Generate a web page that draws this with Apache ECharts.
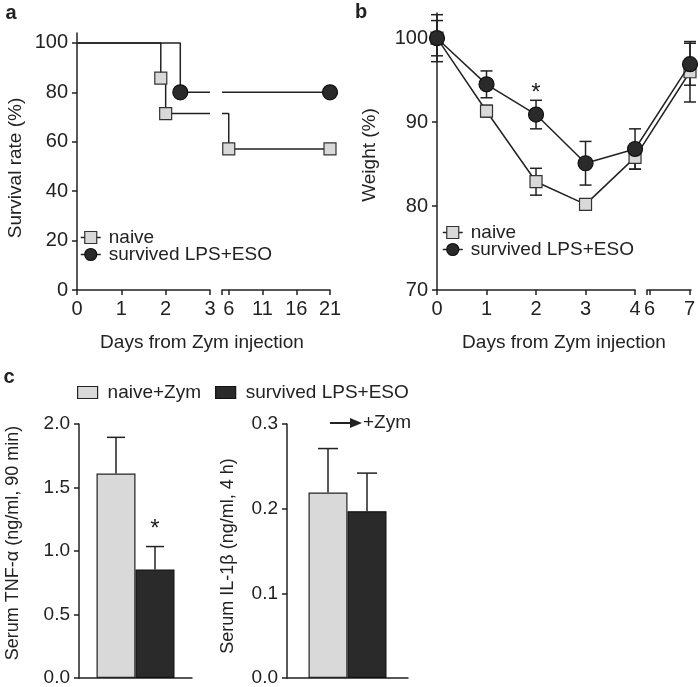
<!DOCTYPE html>
<html>
<head>
<meta charset="utf-8">
<script src="https://cdn.jsdelivr.net/npm/echarts@6/dist/echarts.min.js"></script>
<style>
  html, body { margin: 0; padding: 0; background: #fff; }
  #chart { width: 700px; height: 687px; }
</style>
</head>
<body>
<div id="chart"></div>
<script>
// a: survival after Zym (Kaplan-Meier steps)
var survTimeNaive = [0, 1.89, 2, 6, 21];
var survNaive = [100, 85.7, 71.4, 57.1, 57.1];
var survTimeEso = [0, 2.33, 21];
var survEso = [100, 80, 80];
var survYTicks = [0, 20, 40, 60, 80, 100];
var survDaysRight = [6, 11, 16, 21];

// b: body weight
var weightDays = [0, 1, 2, 3, 4, 7];
var weightNaive = [100, 91.3, 82.9, 80.2, 85.8, 96.0];
var weightNaiveErr = [2.8, 0.7, 1.6, 0.4, 1.4, 3.6];
var weightEso = [100, 94.5, 90.9, 85.1, 86.8, 96.9];
var weightEsoErr = [2.1, 1.6, 1.7, 2.6, 2.4, 2.5];
var weightYTicks = [70, 80, 90, 100];
var weightDaysRight = [6, 7];
var weightSigDay = 2;

// c: serum cytokines
var groupsC = ['naive+Zym', 'survived LPS+ESO'];
var tnfMean = [1.61, 0.855];
var tnfErr = [0.285, 0.18];
var il1Mean = [0.219, 0.197];
var il1Err = [0.052, 0.045];

var FONT = "'Liberation Sans', Arial, sans-serif";
var INK = '#222';
var LIGHT = '#d9d9d9';
var DARK = '#2a2a2a';
var BAR_W = 39;

// b has a broken day axis: 0-4 at full scale, 6-7 squeezed in after the break
function bPos(d) { return d <= 4 ? d : 4.3 + (d - 6) * 0.81; }
function bDay(p) { return Math.round((p - 4.3) / 0.81 + 6); }

var chart = echarts.init(document.getElementById('chart'), null, { renderer: 'canvas', width: 700, height: 687 });

function shownAxis(grid, min, max, extra) {
  extra = extra || {};
  var ax = {
    type: 'value', gridIndex: grid, min: min, max: max,
    splitLine: { show: false },
    axisLine: { show: true, onZero: false, lineStyle: { color: INK, width: 1.5 } },
    axisTick: { show: true, length: 5, lineStyle: { color: INK, width: 1.5 } },
    axisLabel: { color: INK, fontSize: extra.size || 20, fontFamily: FONT, margin: 9 }
  };
  if (extra.ticks) ax.axisTick.customValues = extra.ticks;
  if (extra.labels) ax.axisLabel.customValues = extra.labels;
  if (extra.interval) ax.interval = extra.interval;
  if (extra.fmt) ax.axisLabel.formatter = extra.fmt;
  return ax;
}
function hiddenAxis(grid, min, max) {
  return { type: 'value', gridIndex: grid, min: min, max: max, show: false, splitLine: { show: false } };
}
function catAxis(grid) {
  return {
    type: 'category', gridIndex: grid, data: [''],
    axisLine: { lineStyle: { color: INK, width: 1.5 } },
    axisTick: { show: false }, axisLabel: { show: false }
  };
}

// survival curve split around the axis break
function stepPieces(times, vals, breakAt, resumeAt) {
  var left = [], right = [], held = vals[0];
  for (var i = 0; i < times.length; i++) {
    var p = i === 0 ? { value: [times[i], vals[i]], symbol: 'none' } : [times[i], vals[i]];
    if (times[i] <= breakAt) { left.push(p); held = vals[i]; }
    else right.push(p);
  }
  left.push({ value: [breakAt, held], symbol: 'none' });
  right.unshift({ value: [resumeAt, held], symbol: 'none' });
  return [left, right];
}

var styleNaive = { symbol: 'rect', symbolSize: 12, itemStyle: { color: LIGHT, borderColor: '#333', borderWidth: 1.2 } };
var styleEso = { symbol: 'circle', symbolSize: 15, itemStyle: { color: DARK, borderColor: '#111', borderWidth: 1.2 } };

function lineSeries(name, grid, data, look, extra) {
  return Object.assign({
    type: 'line', name: name, xAxisIndex: grid, yAxisIndex: grid, data: data,
    symbol: look.symbol, symbolSize: look.symbolSize, itemStyle: look.itemStyle,
    lineStyle: { color: INK, width: 1.5 }, showAllSymbol: true, silent: true,
    z: name === 'naive' ? 3 : 4
  }, extra || {});
}

function errorBars(grid, data, dx, cap, twoSided) {
  return {
    type: 'custom', xAxisIndex: grid, yAxisIndex: grid, data: data, z: 2, silent: true,
    renderItem: function (params, api) {
      var lo = api.coord([api.value(0), api.value(1)]);
      var hi = api.coord([api.value(0), api.value(2)]);
      var x = lo[0] + dx;
      var st = { stroke: INK, lineWidth: 1.5 };
      var kids = [
        { type: 'line', shape: { x1: x, y1: lo[1], x2: x, y2: hi[1] }, style: st },
        { type: 'line', shape: { x1: x - cap, y1: hi[1], x2: x + cap, y2: hi[1] }, style: st }
      ];
      if (twoSided) kids.push({ type: 'line', shape: { x1: x - cap, y1: lo[1], x2: x + cap, y2: lo[1] }, style: st });
      return { type: 'group', children: kids };
    }
  };
}

function star(grid, data, dx, lift) {
  return {
    type: 'custom', xAxisIndex: grid, yAxisIndex: grid, data: data, z: 5, silent: true,
    renderItem: function (params, api) {
      var p = api.coord([api.value(0), api.value(1)]);
      return {
        type: 'text', x: p[0] + dx, y: p[1] - lift,
        style: { text: '*', fill: INK, font: '24px ' + FONT, textAlign: 'center', textVerticalAlign: 'middle', verticalAlign: 'middle' }
      };
    }
  };
}

function txt(text, x, y, o) {
  o = o || {};
  return {
    type: 'text', x: x, y: y, rotation: o.rot || 0, silent: true,
    style: {
      text: text, fill: INK, font: (o.bold ? 'bold ' : '') + (o.size || 19) + 'px ' + FONT,
      textAlign: o.align || 'center', textVerticalAlign: 'middle', verticalAlign: 'middle'
    }
  };
}

var naivePieces = stepPieces(survTimeNaive, survNaive, 3, 5);
var esoPieces = stepPieces(survTimeEso, survEso, 3, 5);

var weightNaiveData = weightDays.map(function (d, i) { return [bPos(d), weightNaive[i]]; });
var weightEsoData = weightDays.map(function (d, i) { return [bPos(d), weightEso[i]]; });
var weightNaiveErrData = weightDays.map(function (d, i) { return [bPos(d), weightNaive[i] - weightNaiveErr[i], weightNaive[i] + weightNaiveErr[i]]; });
var weightEsoErrData = weightDays.map(function (d, i) { return [bPos(d), weightEso[i] - weightEsoErr[i], weightEso[i] + weightEsoErr[i]]; });
var sigIdx = weightDays.indexOf(weightSigDay);

var legendLine = {
  naive: { name: 'naive', itemStyle: { color: LIGHT, borderColor: '#333', borderWidth: 1.2 }, lineStyle: { color: INK, width: 1.5 } },
  eso: { name: 'survived LPS+ESO', itemStyle: { color: DARK, borderColor: '#111', borderWidth: 1.2 }, lineStyle: { color: INK, width: 1.5 } }
};
function lineLegend(left, top) {
  return {
    orient: 'vertical', left: left, top: top, itemWidth: 20, itemHeight: 15, itemGap: -2,
    selectedMode: false, padding: 0,
    data: [legendLine.naive, legendLine.eso],
    textStyle: { color: INK, fontSize: 19, fontFamily: FONT, lineHeight: 17, padding: [0, 0, 0, 3] }
  };
}

var grids = [
  { left: 77, top: 33, width: 133, height: 257 },   // a, days 0-3
  { left: 222, top: 33, width: 108, height: 257 },  // a, days 6-21
  { left: 437, top: 13, width: 253, height: 277 },  // b, data
  { left: 437, top: 13, width: 198, height: 277 },  // b, axis days 0-4
  { left: 647, top: 13, width: 44, height: 277 },   // b, axis days 6-7
  { left: 79, top: 424, width: 113, height: 254 },  // c, TNF
  { left: 287, top: 424, width: 121, height: 254 }  // c, IL-1b
].map(function (g) { return Object.assign(g, { containLabel: false, outerBoundsMode: 'none' }); });

var fmt1 = function (v) { return v.toFixed(1); };

var option = {
  animation: false,
  textStyle: { fontFamily: FONT },
  grid: grids,
  xAxis: [
    shownAxis(0, 0, 3, { interval: 1 }),
    shownAxis(1, 5, 21, { ticks: [5].concat(survDaysRight), labels: survDaysRight }),
    hiddenAxis(2, 0, bPos(7)),
    shownAxis(3, 0, 4, { interval: 1 }),
    shownAxis(4, 4.25, 5.14, {
      ticks: [4.25].concat(weightDaysRight.map(bPos)),
      labels: weightDaysRight.map(bPos),
      fmt: function (v) { return String(bDay(v)); }
    }),
    catAxis(5),
    catAxis(6)
  ],
  yAxis: [
    shownAxis(0, 0, 104, { ticks: survYTicks, labels: survYTicks }),
    hiddenAxis(1, 0, 104),
    shownAxis(2, 70, 103, { ticks: weightYTicks, labels: weightYTicks }),
    hiddenAxis(3, 70, 103),
    hiddenAxis(4, 70, 103),
    shownAxis(5, 0, 2, { interval: 0.5, fmt: fmt1, size: 19 }),
    shownAxis(6, 0, 0.3, { interval: 0.1, fmt: fmt1, size: 19 })
  ],
  legend: [
    lineLegend(80, 228),
    lineLegend(442, 223),
    {
      orient: 'horizontal', left: 77, top: 383, itemWidth: 20, itemHeight: 12, itemGap: 14,
      selectedMode: false, padding: 0,
      data: [
        { name: groupsC[0], icon: 'rect', itemStyle: { color: LIGHT, borderColor: '#222', borderWidth: 1.2 } },
        { name: groupsC[1], icon: 'rect', itemStyle: { color: DARK, borderColor: '#111', borderWidth: 1.2 } }
      ],
      textStyle: { color: INK, fontSize: 19, fontFamily: FONT, padding: [0, 0, 0, 5] }
    }
  ],
  series: [
    // a
    lineSeries('naive', 0, naivePieces[0], styleNaive, { step: 'end' }),
    lineSeries('naive', 1, naivePieces[1], styleNaive, { step: 'end' }),
    lineSeries('survived LPS+ESO', 0, esoPieces[0], styleEso, { step: 'end' }),
    lineSeries('survived LPS+ESO', 1, esoPieces[1], styleEso, { step: 'end' }),
    // b
    errorBars(2, weightNaiveErrData, 0, 6, true),
    errorBars(2, weightEsoErrData, 0, 6, true),
    lineSeries('naive', 2, weightNaiveData, styleNaive),
    lineSeries('survived LPS+ESO', 2, weightEsoData, styleEso),
    star(2, [[bPos(weightSigDay), weightEso[sigIdx] + weightEsoErr[sigIdx]]], 0, 7),
    // c, TNF
    { type: 'bar', name: groupsC[0], xAxisIndex: 5, yAxisIndex: 5, data: [tnfMean[0]], barWidth: BAR_W, barGap: '0%', silent: true,
      itemStyle: { color: LIGHT, borderColor: '#222', borderWidth: 1.2 } },
    { type: 'bar', name: groupsC[1], xAxisIndex: 5, yAxisIndex: 5, data: [tnfMean[1]], barWidth: BAR_W, barGap: '0%', silent: true,
      itemStyle: { color: DARK, borderColor: '#111', borderWidth: 1.2 } },
    errorBars(5, [[0, tnfMean[0], tnfMean[0] + tnfErr[0]]], -BAR_W / 2, 9, false),
    errorBars(5, [[0, tnfMean[1], tnfMean[1] + tnfErr[1]]], BAR_W / 2, 9, false),
    star(5, [[0, tnfMean[1] + tnfErr[1]]], BAR_W / 2, 17),
    // c, IL-1b
    { type: 'bar', name: groupsC[0], xAxisIndex: 6, yAxisIndex: 6, data: [il1Mean[0]], barWidth: BAR_W, barGap: '0%', silent: true,
      itemStyle: { color: LIGHT, borderColor: '#222', borderWidth: 1.2 } },
    { type: 'bar', name: groupsC[1], xAxisIndex: 6, yAxisIndex: 6, data: [il1Mean[1]], barWidth: BAR_W, barGap: '0%', silent: true,
      itemStyle: { color: DARK, borderColor: '#111', borderWidth: 1.2 } },
    errorBars(6, [[0, il1Mean[0], il1Mean[0] + il1Err[0]]], -BAR_W / 2, 10, false),
    errorBars(6, [[0, il1Mean[1], il1Mean[1] + il1Err[1]]], BAR_W / 2, 10, false)
  ],
  graphic: [
    txt('a', 11, 13, { bold: true, size: 20 }),
    txt('b', 361, 12, { bold: true, size: 20 }),
    txt('c', 9, 377, { bold: true, size: 20 }),
    txt('Survival rate (%)', 16, 168, { rot: Math.PI / 2 }),
    txt('Weight (%)', 370, 155, { rot: Math.PI / 2 }),
    txt('Days from Zym injection', 202, 343),
    txt('Days from Zym injection', 564, 343),
    txt('Serum TNF-\u03b1 (ng/ml, 90 min)', 13, 543, { rot: Math.PI / 2, size: 18 }),
    txt('Serum IL-1\u03b2 (ng/ml, 4 h)', 228, 556, { rot: Math.PI / 2, size: 18 }),
    { type: 'line', silent: true, shape: { x1: 330, y1: 423, x2: 352, y2: 423 }, style: { stroke: INK, lineWidth: 2 } },
    { type: 'polygon', silent: true, shape: { points: [[350, 418], [362, 423], [350, 428]] }, style: { fill: INK } },
    txt('+Zym', 363, 423, { align: 'left' })
  ]
};

chart.setOption(option);
</script>
</body>
</html>
